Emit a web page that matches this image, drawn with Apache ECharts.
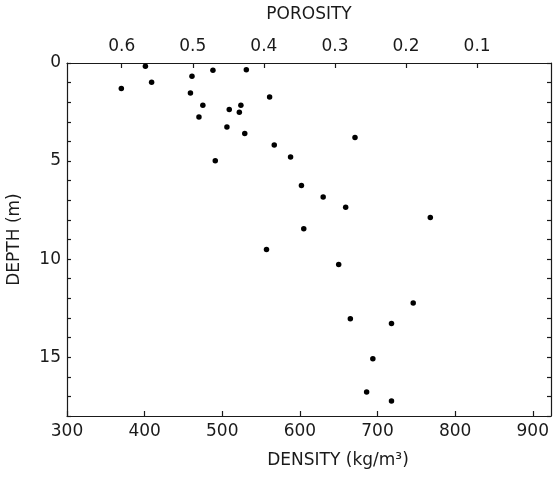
<!DOCTYPE html>
<html>
<head>
<meta charset="utf-8">
<script src="https://cdn.jsdelivr.net/npm/echarts@6/dist/echarts.min.js"></script>
<style>
  html, body { margin: 0; padding: 0; background: #fff; }
  #chart { width: 555px; height: 488px; }
</style>
</head>
<body>
<div id="chart"></div>
<script>
// snow density (kg/m3) vs depth (m)
const density = [
  370, 401, 409, 461, 459, 488, 531, 475, 470, 509, 522, 524, 506, 529, 561, 491,
  567, 588, 671, 602, 630, 659, 768, 605, 557, 650, 746, 665, 718, 694, 686, 718
]
const depth = [
  1.30, 0.17, 0.98, 0.68, 1.53, 0.37, 0.34, 2.15, 2.75, 2.37, 2.51, 2.15, 3.26, 3.60, 1.73, 4.99,
  4.18, 4.79, 3.80, 6.25, 6.83, 7.35, 7.88, 8.45, 9.51, 10.27, 12.24, 13.04, 13.28, 15.08, 16.78, 17.23
]

// tick labels
const densityTicks = [300, 400, 500, 600, 700, 800, 900]
const porosityTicks = [0.6, 0.5, 0.4, 0.3, 0.2, 0.1]
const depthLabels = [0, 5, 10, 15]

// axis ranges
const densityMin = 300
const densityMax = 923.5
// porosity scale on top, fitted to the printed ticks
const porosityLeft = 0.677
const porosityRight = -0.004

const ink = '#1a1a1a'
const font = 'DejaVu Sans'
const fontSize = 17

const points = density.map((d, i) => [d, depth[i]])

const chart = echarts.init(document.getElementById('chart'))

// shared axis line / tick look
const lineStyle = { color: ink, width: 1.2 }

const option = {
  animation: false,
  backgroundColor: '#fff',
  grid: {
    left: 67,
    right: 4,
    top: 63,
    bottom: 72,
    outerBoundsMode: 'none'
  },
  xAxis: [
    {
      type: 'value',
      position: 'bottom',
      min: densityMin,
      max: densityMax,
      name: 'DENSITY (kg/m³)',
      nameLocation: 'middle',
      nameGap: 36,
      nameTextStyle: { color: ink, fontSize, fontFamily: font, padding: [0, 0, 0, 58] },
      axisLine: { onZero: false, lineStyle },
      axisTick: { inside: true, length: 5, lineStyle, customValues: densityTicks },
      axisLabel: { color: ink, fontSize, fontFamily: font, margin: 7, customValues: densityTicks },
      splitLine: { show: false }
    },
    {
      type: 'value',
      position: 'top',
      inverse: true,
      min: porosityRight,
      max: porosityLeft,
      name: 'POROSITY',
      nameLocation: 'middle',
      nameGap: 40,
      nameTextStyle: { color: ink, fontSize, fontFamily: font },
      axisLine: { onZero: false, lineStyle },
      axisTick: { inside: true, length: 5, lineStyle, customValues: porosityTicks },
      axisLabel: {
        color: ink, fontSize, fontFamily: font, margin: 8,
        customValues: porosityTicks,
        formatter: v => v.toFixed(1)
      },
      splitLine: { show: false }
    }
  ],
  yAxis: [
    {
      type: 'value',
      position: 'left',
      inverse: true,
      min: 0,
      max: 18,
      interval: 1,
      name: 'DEPTH (m)',
      nameLocation: 'middle',
      nameGap: 44,
      nameRotate: 90,
      nameTextStyle: { color: ink, fontSize, fontFamily: font },
      axisLine: { onZero: false, lineStyle },
      axisTick: { inside: true, length: 4, lineStyle },
      axisLabel: { color: ink, fontSize, fontFamily: font, margin: 6, customValues: depthLabels },
      splitLine: { show: false }
    },
    {
      type: 'value',
      position: 'right',
      inverse: true,
      min: 0,
      max: 18,
      interval: 1,
      axisLine: { onZero: false, lineStyle },
      axisTick: { inside: true, length: 4, lineStyle },
      axisLabel: { show: false },
      splitLine: { show: false }
    }
  ],
  series: [
    {
      type: 'scatter',
      xAxisIndex: 0,
      yAxisIndex: 0,
      data: points,
      symbol: 'circle',
      symbolSize: 5.5,
      itemStyle: { color: '#000', opacity: 1 }
    }
  ]
}

chart.setOption(option)
</script>
</body>
</html>
